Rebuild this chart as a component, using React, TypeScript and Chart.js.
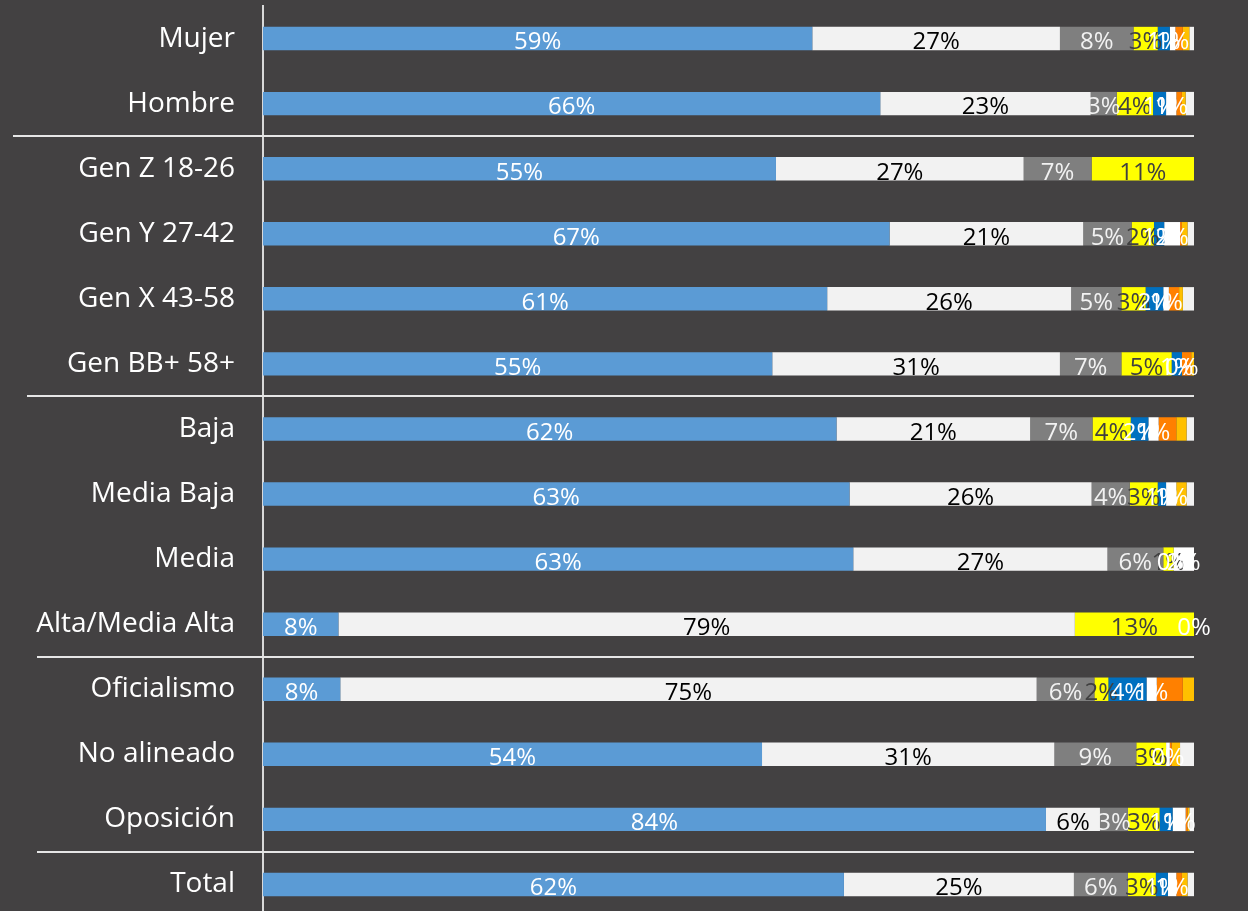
import React, { useEffect, useRef } from "react";
import { Chart, registerables } from "chart.js";

Chart.register(...registerables);

const categories = [
  "Mujer", "Hombre", "Gen Z 18-26", "Gen Y 27-42", "Gen X 43-58", "Gen BB+ 58+",
  "Baja", "Media Baja", "Media", "Alta/Media Alta", "Oficialismo", "No alineado", "Oposición", "Total",
];

const serie1 = [59.0, 66.3, 55.1, 67.3, 60.6, 54.7, 61.6, 63.0, 63.4, 8.1, 8.3, 53.6, 84.1, 62.4];
const serie2 = [26.6, 22.6, 26.6, 20.8, 26.2, 30.9, 20.8, 26.0, 27.3, 79.1, 74.8, 31.4, 5.8, 24.7];
const serie3 = [7.9, 2.8, 7.3, 5.2, 5.4, 6.6, 6.7, 4.1, 6.0, null, 6.2, 8.8, 3.0, 5.8];
const serie4 = [2.6, 3.9, 11.0, 2.4, 2.6, 5.4, 4.1, 3.0, 1.1, 12.8, 1.5, 3.2, 3.4, 3.0];
const serie5 = [1.3, 1.4, null, 1.1, 1.9, 1.1, 1.9, 0.9, 0, null, 4.1, null, 1.4, 1.3];
const serie6 = [0.6, 1.1, null, 1.7, 0.6, 0, 1.1, 1.1, 2.2, 0, 1.1, 0.4, 1.4, 0.9];
const serie7 = [0.8, 0.6, null, 0.2, 1.1, 1.0, 1.9, null, null, null, 2.8, 0.2, 0.2, 0.6];
const serie8 = [0.7, 0.4, null, 0.6, 0.4, 0.3, 1.1, 1.1, null, null, 1.2, 0.9, 0.2, 0.6];
const serie9 = [0.5, 0.9, null, 0.7, 1.2, null, 0.8, 0.8, null, null, null, 1.5, 0.5, 0.7];

const seriesNames = ["Serie 1", "Serie 2", "Serie 3", "Serie 4", "Serie 5", "Serie 6", "Serie 7", "Serie 8", "Serie 9"];
const seriesColors = ["#5B9BD5", "#F2F2F2", "#7F7F7F", "#FFFF00", "#0070C0", "#FFFFFF", "#FF8000", "#FFC000", "#F2F2F2"];
const labelColors = ["#FFFFFF", "#000000", "#F2F2F2", "#404040", "#FFFFFF", "#FFFFFF", null, null, null];

// separator lines after these category indices, with their left start
const separatorAfter = [1, 5, 9, 12];
const separatorLeft = [13, 27, 37, 37];

const BG = "#434142";
const FONT = "'Open Sans', 'Noto Sans', sans-serif";

export default function App() {
  const canvasRef = useRef<HTMLCanvasElement | null>(null);

  useEffect(() => {
    document.body.style.margin = "0";
    document.body.style.overflow = "hidden";
    const allSeries = [serie1, serie2, serie3, serie4, serie5, serie6, serie7, serie8, serie9];

    const labelPlugin = {
      id: "barLabels",
      afterDatasetsDraw(chart: any) {
        const ctx = chart.ctx;
        ctx.save();
        ctx.font = `24px ${FONT}`;
        ctx.textAlign = "center";
        ctx.textBaseline = "middle";
        chart.data.datasets.forEach((ds: any, di: number) => {
          const color = labelColors[di];
          if (!color) return;
          const meta = chart.getDatasetMeta(di);
          meta.data.forEach((bar: any, i: number) => {
            const v = ds.data[i];
            if (v === null || v === undefined) return;
            ctx.fillStyle = color;
            const x = (bar.x + bar.base) / 2;
            ctx.fillText(Math.round(v) + "%", x, bar.y + 4);
          });
        });
        ctx.restore();
      },
    };

    const sepPlugin = {
      id: "separators",
      afterDraw(chart: any) {
        const ctx = chart.ctx;
        const y = chart.scales.y;
        ctx.save();
        ctx.strokeStyle = "#E6E6E6";
        ctx.lineWidth = 2;
        separatorAfter.forEach((idx, k) => {
          const py = Math.round((y.getPixelForValue(idx) + y.getPixelForValue(idx + 1)) / 2);
          ctx.beginPath();
          ctx.moveTo(separatorLeft[k], py);
          ctx.lineTo(chart.chartArea.right, py);
          ctx.stroke();
        });
        ctx.restore();
      },
    };

    const chart = new Chart(canvasRef.current as HTMLCanvasElement, {
      type: "bar",
      data: {
        labels: categories,
        datasets: allSeries.map((d, i) => ({
          label: seriesNames[i],
          data: d as any,
          backgroundColor: seriesColors[i],
          borderWidth: 0,
          barPercentage: 0.36,
          categoryPercentage: 1,
        })),
      },
      options: {
        indexAxis: "y",
        animation: false,
        responsive: true,
        maintainAspectRatio: false,
        layout: { padding: { top: 6, right: 54, bottom: 0, left: 0 } },
        plugins: {
          legend: { display: false },
          tooltip: { enabled: false },
        },
        scales: {
          x: {
            stacked: true,
            min: 0,
            max: 100,
            display: false,
          },
          y: {
            stacked: true,
            grid: { display: false, drawTicks: false },
            border: { display: true, color: "#D9D9D9", width: 2 },
            ticks: {
              color: "#FFFFFF",
              font: { family: FONT, size: 28 },
              padding: 28,
            },
            afterFit(scale: any) {
              scale.width = 263;
              scale.paddingTop = 0;
              scale.paddingBottom = 0;
            },
          },
        },
      },
      plugins: [labelPlugin, sepPlugin],
    });
    return () => chart.destroy();
  }, []);

  return (
    <div style={{ position: "fixed", left: 0, top: 0, width: 1248, height: 911, overflow: "hidden", background: BG }}>
      <div style={{ position: "relative", width: 1248, height: 917 }}>
        <canvas ref={canvasRef} />
      </div>
    </div>
  );
}
